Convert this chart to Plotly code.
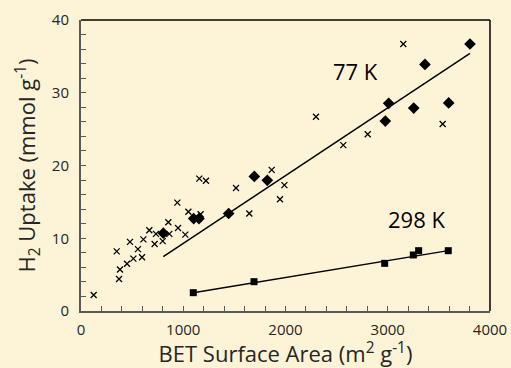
import plotly.graph_objects as go

# 77 K, crosses
x77_cross = [124, 349, 372, 381, 450, 479, 512, 557, 597, 610, 668, 720, 733, 799, 854, 864,
             942, 949, 1020, 1050, 1170, 1157, 1222, 1516, 1646, 1865, 1946, 1989, 2298,
             2565, 2804, 3152, 3537]
y77_cross = [2.2, 8.2, 4.4, 5.7, 6.5, 9.5, 7.2, 8.5, 7.4, 9.85, 11.1, 9.2, 10.6, 9.6, 12.2, 10.6,
             14.9, 11.4, 10.5, 13.65, 13.3, 18.2, 17.9, 16.9, 13.4, 19.4, 15.35, 17.3, 26.7,
             22.8, 24.3, 36.7, 25.7]
# 77 K, diamonds
x77_dia = [805, 1102, 1154, 1444, 1695, 1822, 2976, 3009, 3254, 3364, 3596, 3804]
y77_dia = [10.7, 12.7, 12.7, 13.4, 18.5, 17.96, 26.1, 28.55, 27.9, 33.9, 28.6, 36.7]
# 298 K, squares
x298 = [1098, 1692, 2970, 3250, 3302, 3592]
y298 = [2.52, 4.03, 6.55, 7.70, 8.29, 8.29]
# fit lines
fit77_x = [805, 3804]
fit77_y = [7.47, 35.4]
fit298_x = [1098, 3592]
fit298_y = [2.5, 8.3]

bg = "#fdf3d7"
font = "'Open Sans', sans-serif"
txt = "#262626"

fig = go.Figure()
fig.add_trace(go.Scatter(x=fit77_x, y=fit77_y, mode="lines",
                         line=dict(color="black", width=1.5), showlegend=False))
fig.add_trace(go.Scatter(x=fit298_x, y=fit298_y, mode="lines",
                         line=dict(color="black", width=1.5), showlegend=False))
fig.add_trace(go.Scatter(x=x77_cross, y=y77_cross, mode="markers",
                         marker=dict(symbol="x-thin", size=6, line=dict(color="black", width=1.3)),
                         showlegend=False))
fig.add_trace(go.Scatter(x=x77_dia, y=y77_dia, mode="markers",
                         marker=dict(symbol="diamond", size=9, color="black"),
                         showlegend=False))
fig.add_trace(go.Scatter(x=x298, y=y298, mode="markers",
                         marker=dict(symbol="square", size=7, color="black"),
                         showlegend=False))

fig.add_annotation(x=2680, y=33.0, text="77 K", showarrow=False,
                   font=dict(size=22, color="black", family=font))
fig.add_annotation(x=3283, y=12.6, text="298 K", showarrow=False,
                   font=dict(size=22, color="black", family=font))

# top and right frame lines
fig.add_shape(type="line", xref="paper", yref="paper", x0=0, x1=1, y0=1, y1=1,
              line=dict(color="black", width=1.5))
fig.add_shape(type="line", xref="paper", yref="paper", x0=1, x1=1, y0=0, y1=1,
              line=dict(color="black", width=1.5))

fig.update_layout(
    width=511, height=368,
    margin=dict(l=81, r=21, t=20, b=57),
    paper_bgcolor=bg, plot_bgcolor=bg,
    font=dict(family=font, color=txt),
    xaxis=dict(range=[0, 4000], dtick=1000, showgrid=False, zeroline=False, automargin=False,
               showline=True, linecolor="#595959", linewidth=2,
               ticks="inside", ticklen=5, tickcolor="#595959", tickwidth=1.2,
               minor=dict(dtick=200, ticks="inside", ticklen=5, tickcolor="#595959", tickwidth=1.2),
               tickfont=dict(size=15, color=txt), ticklabelstandoff=4,
               title=dict(text="BET Surface Area (m<sup>2</sup> g<sup>-1</sup>)",
                          font=dict(size=22, color=txt), standoff=7)),
    yaxis=dict(range=[0, 40], dtick=10, showgrid=False, zeroline=False, automargin=False,
               showline=True, linecolor="#595959", linewidth=2,
               ticks="inside", ticklen=5, tickcolor="#595959", tickwidth=1.2,
               minor=dict(dtick=2, ticks="inside", ticklen=5, tickcolor="#595959", tickwidth=1.2),
               tickfont=dict(size=15, color=txt), ticklabelstandoff=7,
               title=dict(text="H<sub>2</sub> Uptake (mmol g<sup>-1</sup>)",
                          font=dict(size=22, color=txt), standoff=10)),
)

fig.write_html("out.html", config={"displayModeBar": False},
               post_script="document.body.style.margin='0';document.body.style.background='#fdf3d7';")
